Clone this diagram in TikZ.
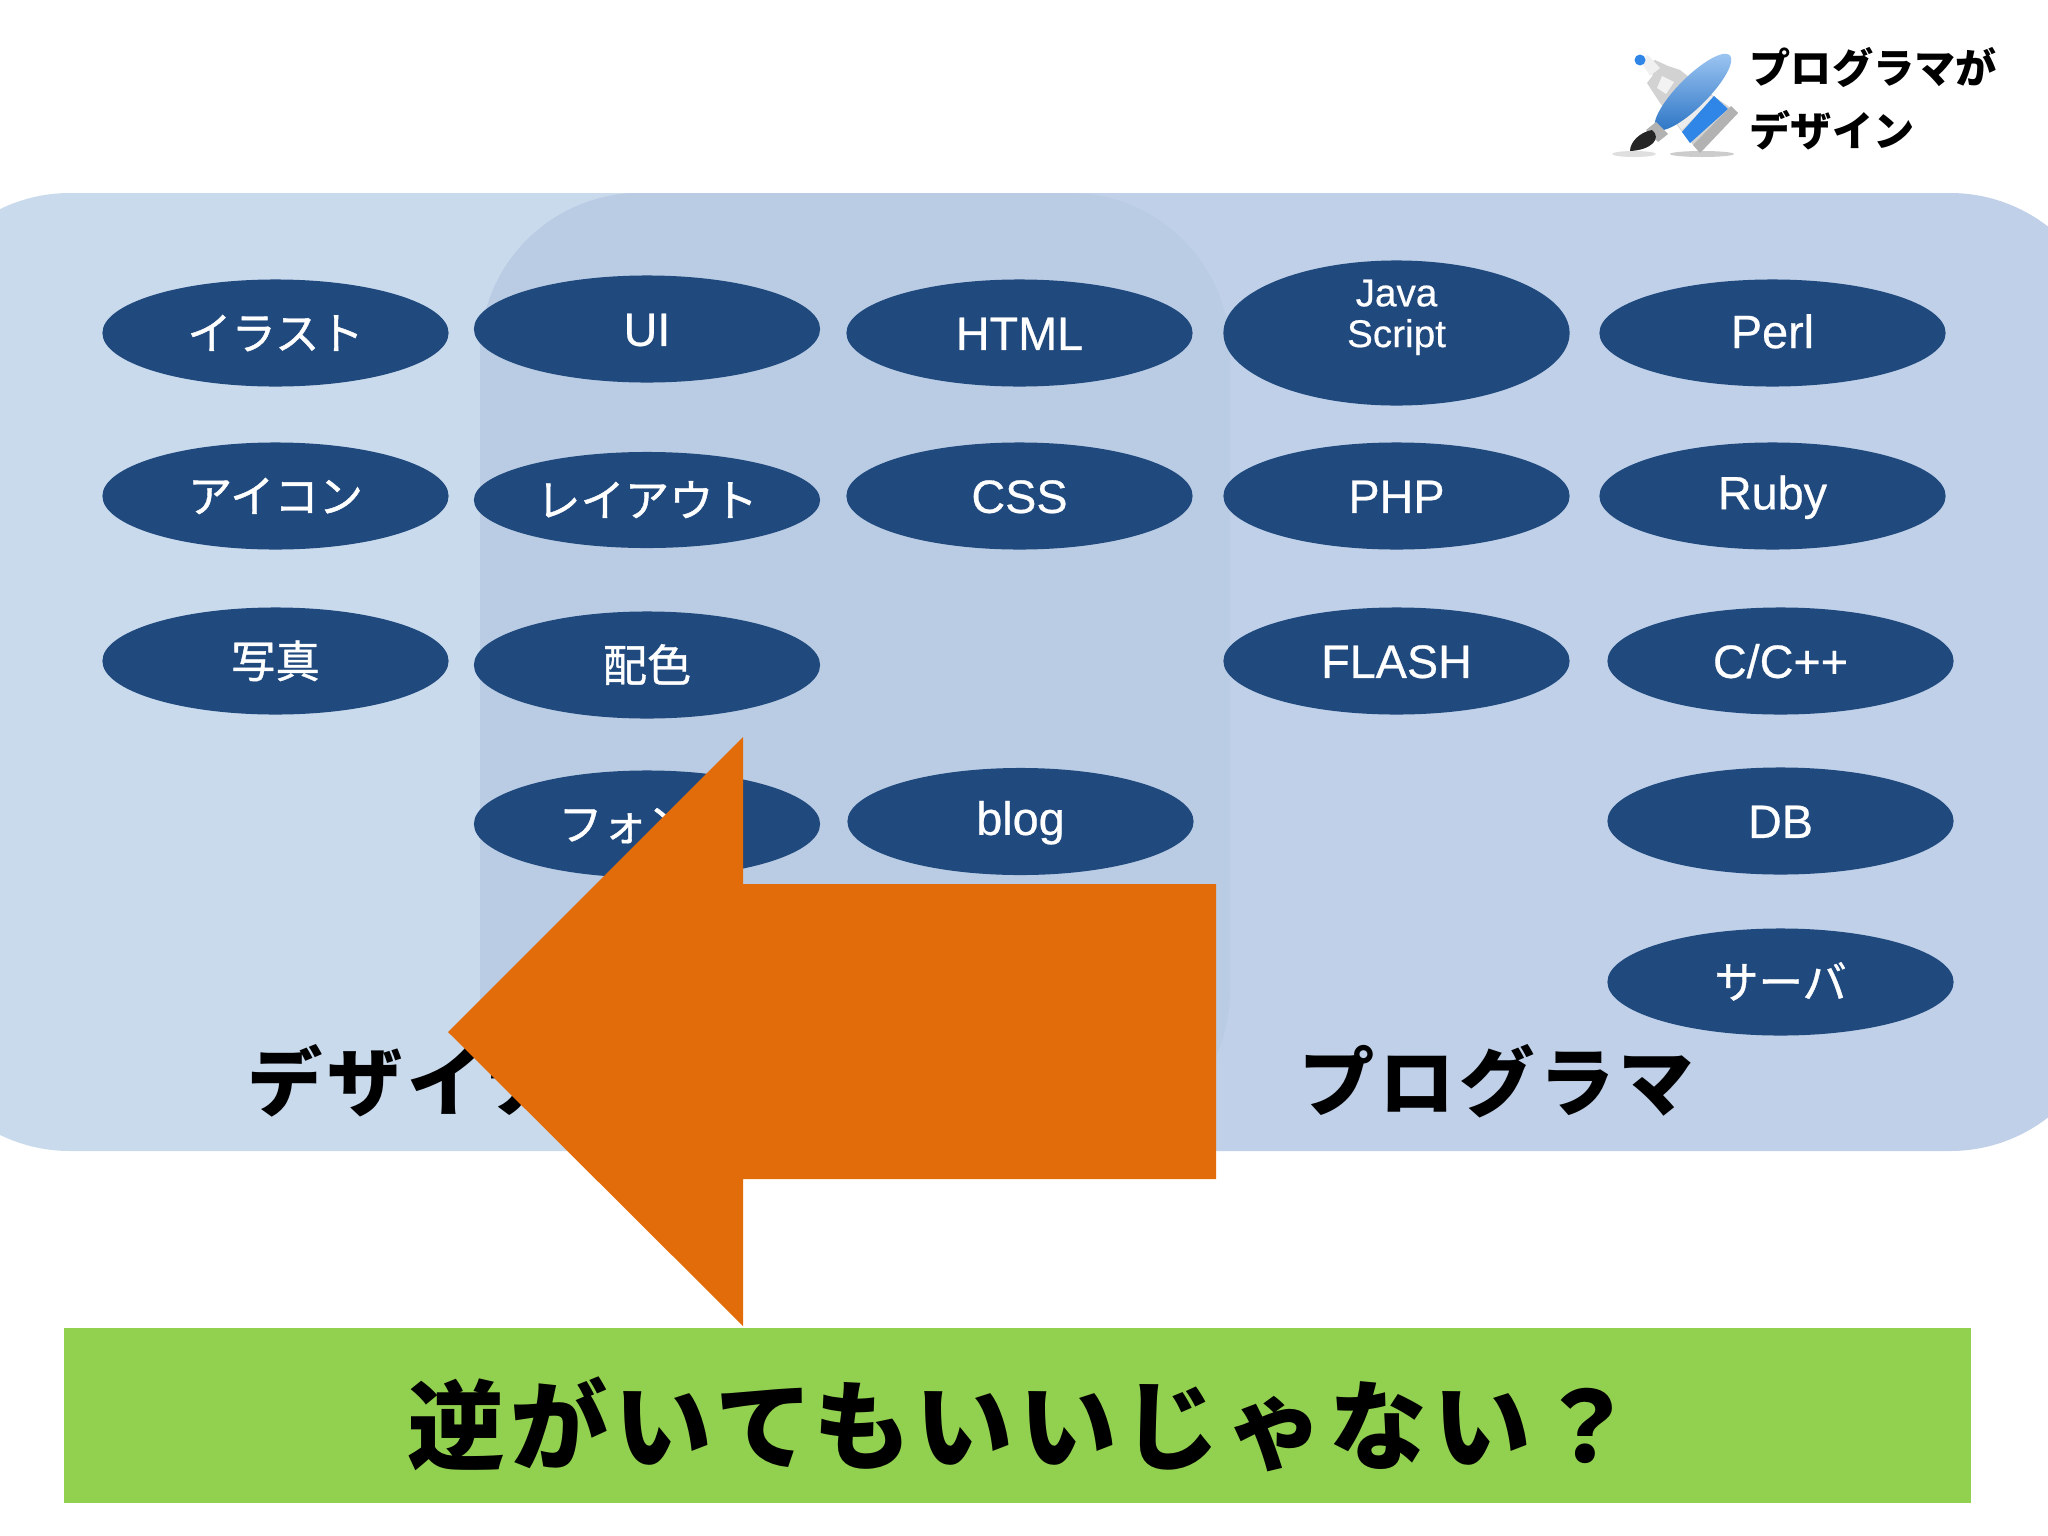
\documentclass[tikz,border=0pt]{standalone}
\usepackage{fontspec}
\setmainfont{Liberation Sans}[FakeBold=0.5]
\newfontfamily\jp{Noto Sans CJK JP}
\newfontfamily\jpm{Noto Sans CJK JP}[FakeBold=0.9]
\newfontfamily\jpwide[LetterSpace=6]{Noto Sans CJK JP}
\usetikzlibrary{shapes.geometric}
\definecolor{panelL}{HTML}{C9DAED}
\definecolor{panelR}{HTML}{BFD0E8}
\definecolor{panelM}{HTML}{BACCE4}
\definecolor{oval}{HTML}{20497D}
\definecolor{arrowc}{HTML}{E36C0A}
\definecolor{greenbar}{HTML}{92D050}
\definecolor{penblue}{HTML}{2F86E6}
\tikzset{
  pill/.style={ellipse,fill=oval,text=white,inner sep=0pt,minimum width=3.46cm,minimum height=1.07cm,align=center,text height=9.6pt,text depth=0pt,font=\fontsize{13.3}{15}\selectfont},
  jpill/.style={pill,text height=10.6pt,text depth=1.2pt,font=\jpm\fontsize{12.6}{15}\selectfont},
  heading/.style={inner sep=0pt,text=black,font=\jpwide\bfseries\fontsize{21.4}{24}\selectfont},
  corner/.style={inner sep=0pt,anchor=west,text=black,font=\jp\bfseries\fontsize{11.7}{14}\selectfont}
}
\begin{document}
\begin{tikzpicture}[x=0.01cm,y=-0.01cm]
\useasboundingbox (0,0) rectangle (2048,1536);
\clip (0,0) rectangle (2048,1536);
\fill[white] (0,0) rectangle (2048,1536);
% panels
\fill[panelL,rounded corners=1.6cm] (-90,193) rectangle (1230,1151);
\fill[panelR,rounded corners=1.6cm] (480,193) rectangle (2110,1151);
\begin{scope}
  \clip[rounded corners=1.6cm] (-90,193) rectangle (1230,1151);
  \fill[panelM,rounded corners=1.6cm] (480,193) rectangle (2110,1151);
\end{scope}
% ovals
\node[jpill] (n1) at (275.5,333) {イラスト};
\node[jpill] (n2) at (275.5,496) {アイコン};
\node[jpill] (n3) at (275.5,661) {写真};
\node[pill] (n4) at (647,329) {UI};
\node[jpill,minimum height=0.96cm] (n5) at (647,500) {レイアウト};
\node[jpill] (n6) at (647,665) {配色};
\node[jpill] (n7) at (647,824) {フォント};
\node[pill] (n8) at (1019.5,333) {HTML};
\node[pill] (n9) at (1019.5,496) {CSS};
\node[pill,text depth=2pt] (n10) at (1020.5,821.5) {blog};
\node[pill,minimum height=1.45cm,text height=8pt,text depth=0pt,font=\fontsize{11}{11.6}\selectfont] (n11) at (1396.5,333) {Java\\Script};
\node[pill] (n12) at (1396.5,496) {PHP};
\node[pill] (n13) at (1396.5,661) {FLASH};
\node[pill,text depth=1pt] (n14) at (1772.5,333) {Perl};
\node[pill,text depth=2pt] (n15) at (1772.5,496) {Ruby};
\node[pill] (n16) at (1780.5,661) {C/C++};
\node[pill] (n17) at (1780.5,821) {DB};
\node[jpill] (n18) at (1780.5,982) {サーバ};
% headings
\node[heading] (designer) at (404,1081) {デザイナ};
\node[heading] (programmer) at (1497,1081) {プログラマ};
% arrow
\fill[arrowc] (1216,884) -- (743,884) -- (743,737) -- (448,1032) -- (743,1326) -- (743,1179) -- (1216,1179) -- cycle;
% green bar
\node[fill=greenbar,inner sep=0pt,minimum width=19.05cm,minimum height=1.75cm] (bar) at (1017.5,1415.5) {};
\node[inner sep=0pt,text=black,font=\jpwide\bfseries\fontsize{27.8}{32}\selectfont] (question) at (1021,1424) {逆がいてもいいじゃない？};
% icon
\fill[gray,opacity=.25] (1634,154) ellipse (22 and 3);
\fill[gray,opacity=.4] (1702,154) ellipse (32 and 3);
\fill[gray!35] (1645,66) -- (1655,60) -- (1668,66) -- (1680,70) -- (1712,95) -- (1738,113) -- (1700,153) -- (1683,133) -- (1660,103) -- (1647,83) -- (1653,75) -- cycle;
\fill[gray!12] (1640,60) -- (1648,55) -- (1660,68) -- (1650,76) -- cycle;
\fill[gray!10] (1662,76) -- (1674,82) -- (1666,94) -- (1657,88) -- cycle;
\fill[gray!15] (1700,92) -- (1714,97) -- (1682,130) -- (1674,120) -- cycle;
\fill[penblue] (1714,96) -- (1728,109) -- (1690,143) -- (1682,132) -- cycle;
\fill[gray!60] (1738,113) -- (1700,153) -- (1693,145) -- (1731,106) -- cycle;
\fill[penblue] (1640,60) circle (5.5);
\shade[top color=penblue!45!white,bottom color=penblue!85!black,rotate around={45:(1693,92)}] (1693,92) ellipse (52 and 15);
\fill[gray!60] (1656,122) -- (1668,134) -- (1658,142) -- (1646,130) -- cycle;
\fill[black!85] (1652,130) .. controls (1662,138) and (1652,150) .. (1630,151) .. controls (1630,142) and (1640,132) .. (1652,130) -- cycle;
% corner label
\node[corner] (c1) at (1749,67) {プログラマが};
\node[corner] (c2) at (1749,130) {デザイン};
\end{tikzpicture}
\end{document}
